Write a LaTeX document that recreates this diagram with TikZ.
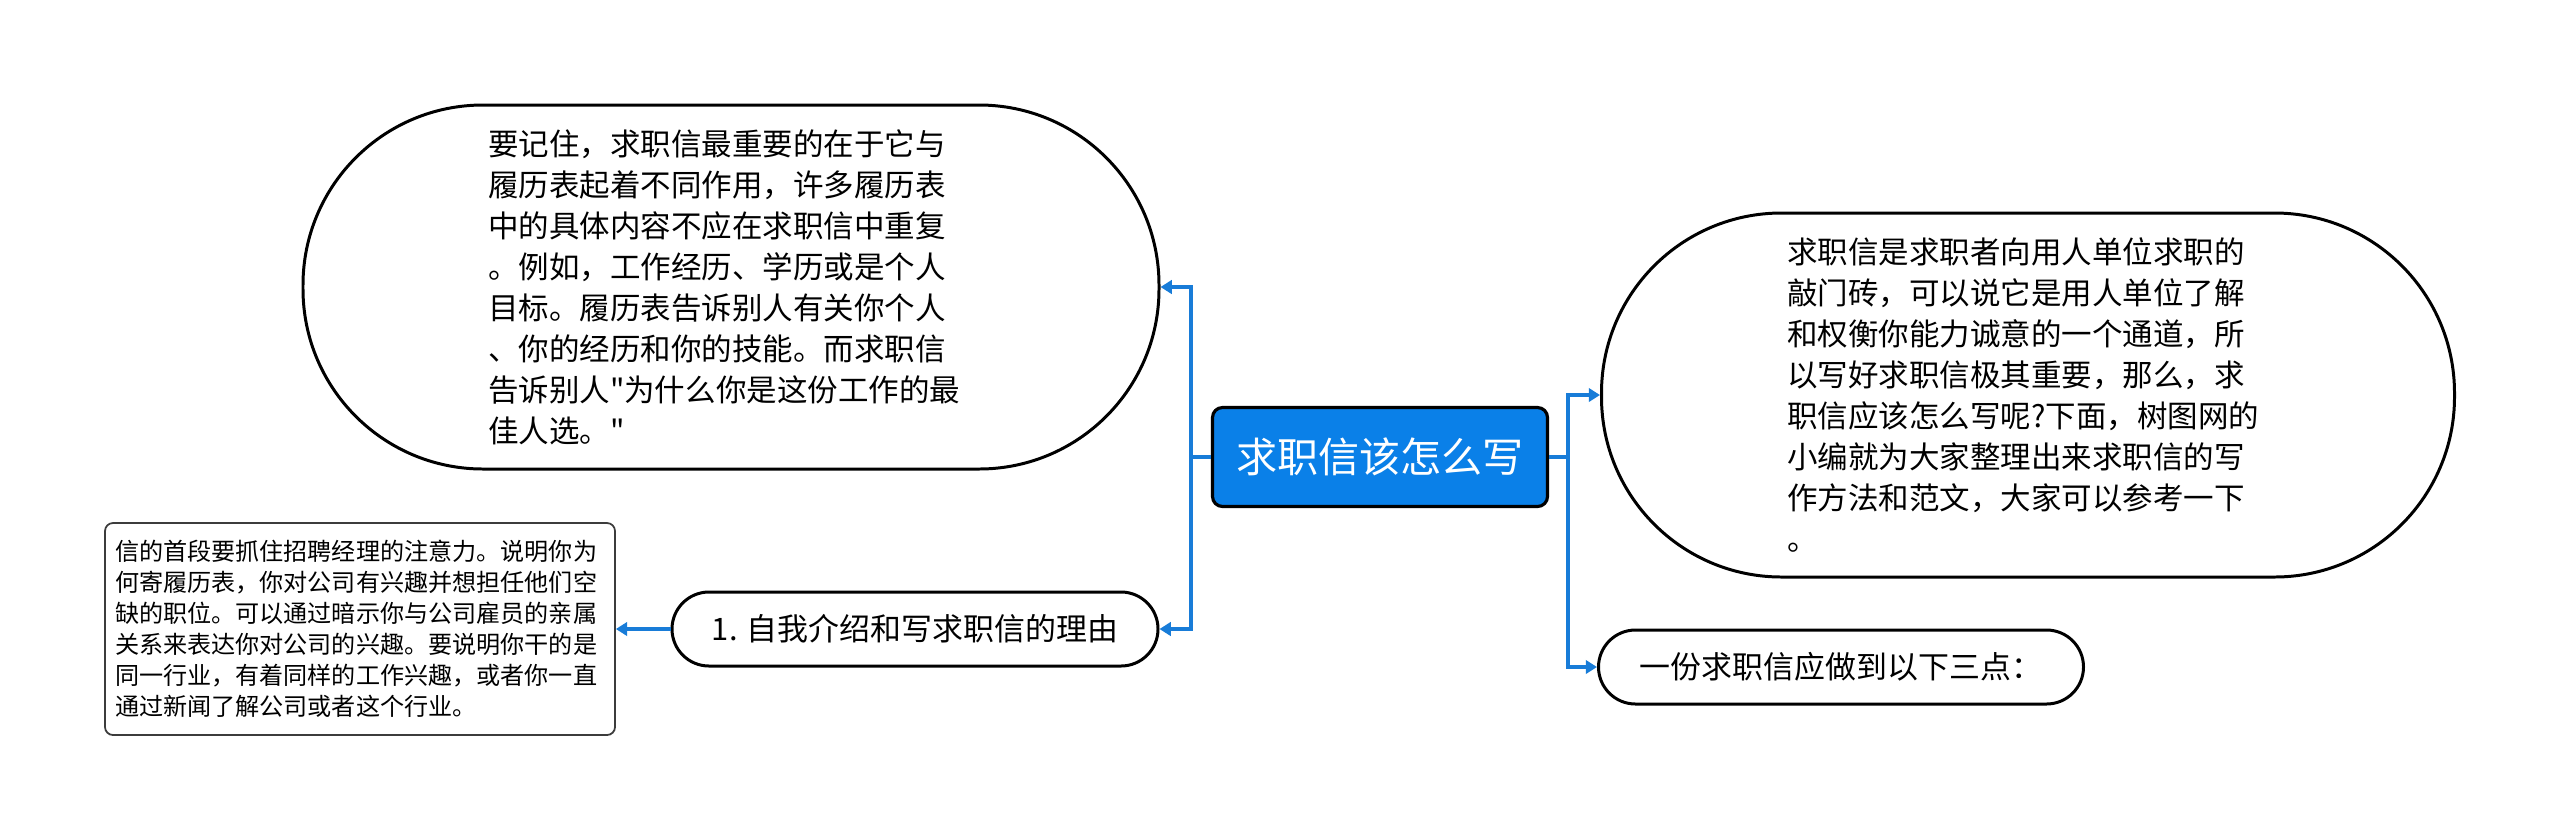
\documentclass[tikz,border=0pt]{standalone}
\usepackage{fontspec}
\newfontfamily\cjk{Noto Sans CJK SC}
\usepackage{tikz}
\usetikzlibrary{arrows.meta,positioning}
\definecolor{mmblue}{RGB}{10,128,232}
\definecolor{mmline}{RGB}{24,124,216}
\definecolor{mmgray}{RGB}{60,60,60}

\begin{document}
\begin{tikzpicture}[
    rootbox/.style={draw, line width=0.9pt, rounded corners=0.1cm, fill=mmblue, text=white,
                    minimum width=3.35cm, minimum height=0.99cm, inner sep=0pt,
                    font=\cjk\fontsize{11.7pt}{14pt}\selectfont},
    bigpill/.style={draw, line width=0.85pt, rounded corners=1.8cm, inner sep=0pt,
                    minimum height=3.64cm, align=left,
                    font=\cjk\fontsize{8.68pt}{11.67pt}\selectfont},
    pill/.style={draw, line width=0.85pt, rounded corners=0.37cm, inner sep=0pt,
                 minimum width=4.86cm, minimum height=0.74cm,
                 font=\cjk\fontsize{8.8pt}{11pt}\selectfont},
    notebox/.style={draw=mmgray, line width=0.5pt, rounded corners=0.08cm, inner sep=0pt,
                    minimum width=5.10cm, minimum height=2.12cm, text width=4.9cm, align=left,
                    font=\cjk\fontsize{6.86pt}{8.8pt}\selectfont},
    link/.style={draw=mmline, line width=1pt, -{Triangle[length=3.2pt,width=3.8pt]}}]
\useasboundingbox (0,0) rectangle (25.6,-8.39);
% Centre
\node[rootbox] (root) at (13.80,-4.57) {求职信该怎么写};
% Left branch
\node[bigpill, minimum width=8.56cm, text width=4.86cm] (leftbig) at (7.31,-2.87)
    {要记住，求职信最重要的在于它与\\履历表起着不同作用，许多履历表\\中的具体内容不应在求职信中重复\\。例如，工作经历、学历或是个人\\目标。履历表告诉别人有关你个人\\、你的经历和你的技能。而求职信\\告诉别人"为什么你是这份工作的最\\佳人选。"};
\node[pill] (leftsmall) at (9.15,-6.29) {1. 自我介绍和写求职信的理由};
\node[notebox] (leftnote) at (3.60,-6.29)
    {信的首段要抓住招聘经理的注意力。说明你为\\何寄履历表，你对公司有兴趣并想担任他们空\\缺的职位。可以通过暗示你与公司雇员的亲属\\关系来表达你对公司的兴趣。要说明你干的是\\同一行业，有着同样的工作兴趣，或者你一直\\通过新闻了解公司或者这个行业。};
% Right branch
\node[bigpill, minimum width=8.53cm, text width=4.82cm] (rightbig) at (20.28,-3.95)
    {求职信是求职者向用人单位求职的\\敲门砖，可以说它是用人单位了解\\和权衡你能力诚意的一个通道，所\\以写好求职信极其重要，那么，求\\职信应该怎么写呢?下面，树图网的\\小编就为大家整理出来求职信的写\\作方法和范文，大家可以参考一下\\。};
\node[pill, minimum width=4.85cm] (rightsmall) at (18.41,-6.67) {一份求职信应做到以下三点：};
% Links
\draw[link] (root.west) -- ++(-0.20,0) |- (leftbig.east);
\draw[link] (root.west) -- ++(-0.20,0) |- (leftsmall.east);
\draw[link] (leftsmall.west) -- (leftnote.east);
\draw[link] (root.east) -- ++(0.19,0) |- (rightbig.west);
\draw[link] (root.east) -- ++(0.19,0) |- (rightsmall.west);
\end{tikzpicture}
\end{document}
